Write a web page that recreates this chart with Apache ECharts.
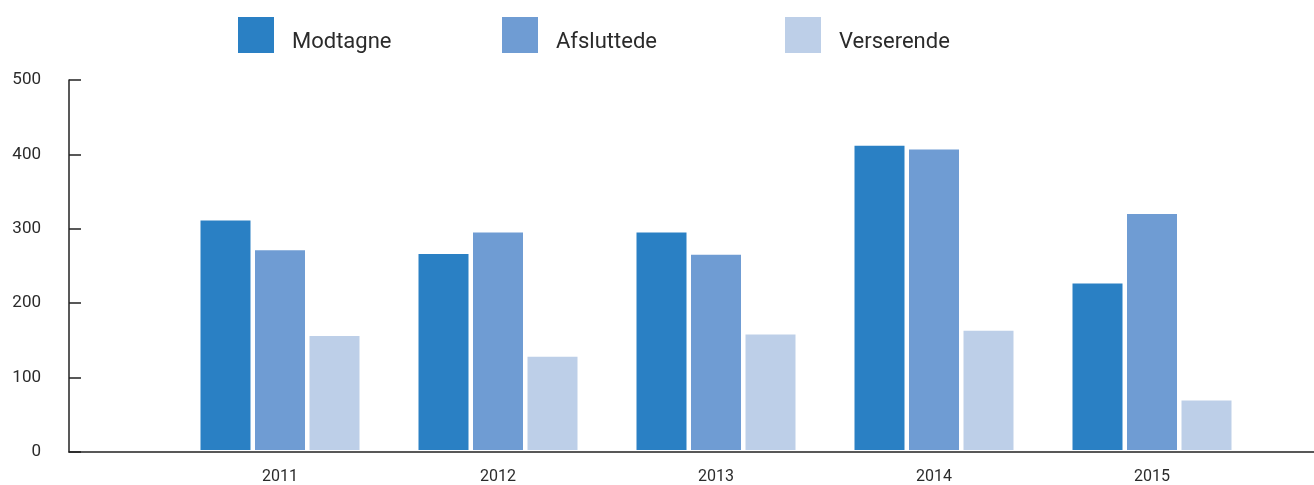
<!DOCTYPE html>
<html>
<head>
<meta charset="utf-8">
<script src="https://cdn.jsdelivr.net/npm/echarts@6/dist/echarts.min.js"></script>
<style>
  html, body { margin: 0; padding: 0; background: #fff; }
  #chart { width: 1314px; height: 485px; }
</style>
</head>
<body>
<div id="chart"></div>
<script>
// år (x-akse)
var years = ['2011', '2012', '2013', '2014', '2015'];

// sager pr. år
var modtagne = [310, 265, 294, 411, 225];
var afsluttede = [270, 294, 264, 406, 319];
var verserende = [154, 126, 156, 161, 67];

var seriesNames = ['Modtagne', 'Afsluttede', 'Verserende'];
var colors = ['#2a80c4', '#6f9cd3', '#bdcfe8'];

var font = 'Roboto';
var legendLeft = [233, 497, 780];

function makeLegend(i) {
    return {
        data: [seriesNames[i]],
        left: legendLeft[i],
        top: 12,
        icon: 'rect',
        itemWidth: 36,
        itemHeight: 36,
        selectedMode: false,
        formatter: '{t|{name}}',
        textStyle: {
            rich: {
                t: { fontFamily: font, fontSize: 22, color: '#2b2b2b', padding: [14, 0, 0, 13] }
            }
        }
    };
}

var myChart = echarts.init(document.getElementById('chart'));

var option = {
    animation: false,
    color: colors,
    legend: [makeLegend(0), makeLegend(1), makeLegend(2)],
    grid: [
        { left: 69, right: 0, top: 80, bottom: 33 },
        { left: 171, right: 53, top: 80, bottom: 33 }
    ],
    xAxis: [
        {
            // kun aksens linje
            type: 'value', gridIndex: 0, min: 0, max: 1,
            axisLine: { show: true, lineStyle: { color: '#222', width: 1.5 } },
            axisTick: { show: false }, axisLabel: { show: false }, splitLine: { show: false }
        },
        {
            type: 'category', gridIndex: 1, data: years,
            axisLine: { show: false }, axisTick: { show: false },
            axisLabel: { fontFamily: font, fontSize: 16, color: '#2b2b2b', margin: 19 }
        }
    ],
    yAxis: [
        {
            type: 'value', gridIndex: 0, min: 0, max: 500, interval: 100,
            axisLine: { show: true, lineStyle: { color: '#222', width: 1.5 } },
            axisTick: { show: true, inside: true, length: 12, lineStyle: { color: '#222', width: 1.5 } },
            axisLabel: { fontFamily: font, fontSize: 17, color: '#2b2b2b', margin: 28 },
            splitLine: { show: false }
        },
        {
            type: 'value', gridIndex: 1, min: 0, max: 500, show: false
        }
    ],
    series: [
        { name: seriesNames[0], type: 'bar', xAxisIndex: 1, yAxisIndex: 1, data: modtagne, barWidth: 50, barGap: '9%' },
        { name: seriesNames[1], type: 'bar', xAxisIndex: 1, yAxisIndex: 1, data: afsluttede, barWidth: 50, barGap: '9%' },
        { name: seriesNames[2], type: 'bar', xAxisIndex: 1, yAxisIndex: 1, data: verserende, barWidth: 50, barGap: '9%' }
    ]
};

myChart.setOption(option);
</script>
</body>
</html>
